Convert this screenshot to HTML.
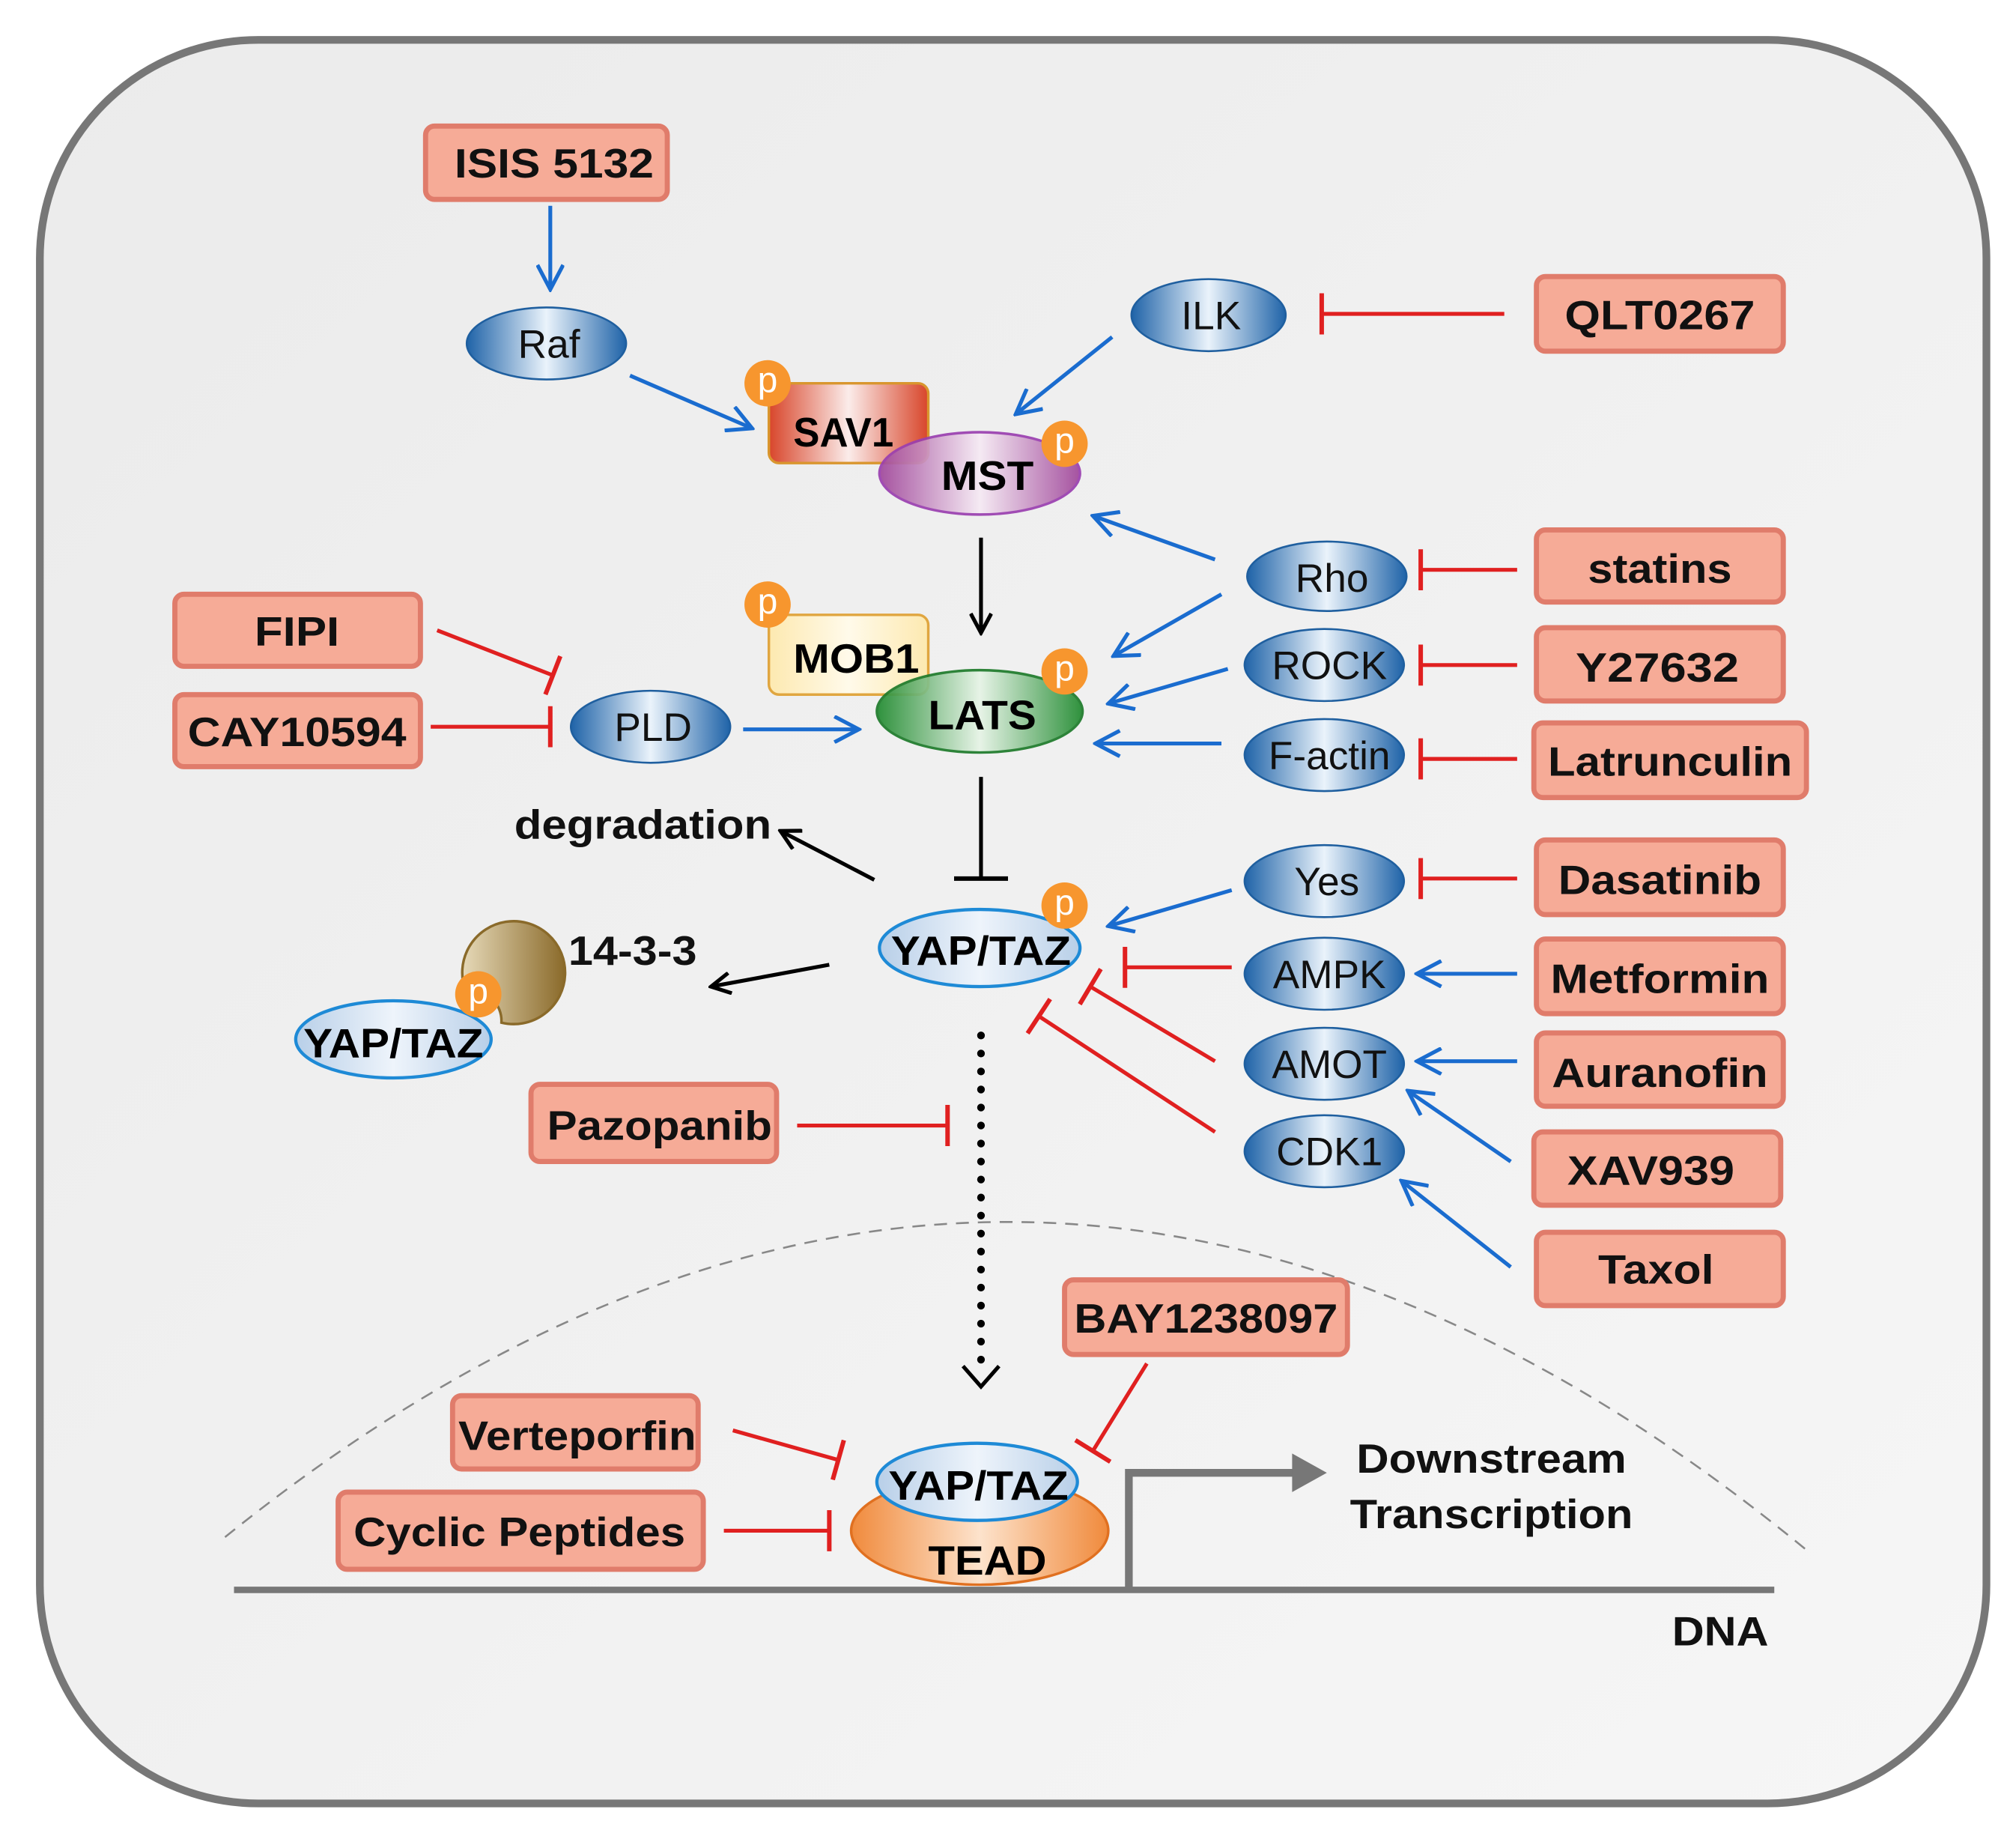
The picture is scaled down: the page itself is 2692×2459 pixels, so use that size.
<!DOCTYPE html>
<html><head><meta charset="utf-8"><style>html,body{margin:0;padding:0;background:#fff}svg{display:block}</style></head>
<body>
<svg width="2692" height="2459" viewBox="0 0 1568 1432" preserveAspectRatio="none" xmlns="http://www.w3.org/2000/svg" font-family="'Liberation Sans', sans-serif">
<defs>
<linearGradient id="bg" x1="0" y1="0" x2="1" y2="1"><stop offset="0" stop-color="#ebebeb"/><stop offset="1" stop-color="#f6f6f6"/></linearGradient>
<linearGradient id="blue" x1="0" y1="0" x2="1" y2="0"><stop offset="0" stop-color="#1f63a8"/><stop offset="0.5" stop-color="#eaf3fb"/><stop offset="1" stop-color="#1f63a8"/></linearGradient>
<linearGradient id="lblue" x1="0" y1="0" x2="1" y2="0"><stop offset="0" stop-color="#b8cfe8"/><stop offset="0.5" stop-color="#eef4fb"/><stop offset="1" stop-color="#b8cfe8"/></linearGradient>
<linearGradient id="purple" x1="0" y1="0" x2="1" y2="0"><stop offset="0" stop-color="#a0469a"/><stop offset="0.5" stop-color="#f6eaf4"/><stop offset="1" stop-color="#a0469a"/></linearGradient>
<linearGradient id="green" x1="0" y1="0" x2="1" y2="0"><stop offset="0" stop-color="#1f8a2e"/><stop offset="0.5" stop-color="#e6f4e6"/><stop offset="1" stop-color="#1f8a2e"/></linearGradient>
<linearGradient id="red" x1="0" y1="0" x2="1" y2="0"><stop offset="0" stop-color="#d8452a"/><stop offset="0.5" stop-color="#fbecea"/><stop offset="1" stop-color="#d8452a"/></linearGradient>
<linearGradient id="yel" x1="0" y1="0" x2="1" y2="0"><stop offset="0" stop-color="#fde9b0"/><stop offset="0.5" stop-color="#fffaea"/><stop offset="1" stop-color="#fde9b0"/></linearGradient>
<linearGradient id="orange" x1="0" y1="0" x2="1" y2="0"><stop offset="0" stop-color="#f08a3c"/><stop offset="0.5" stop-color="#fde3cc"/><stop offset="1" stop-color="#f08a3c"/></linearGradient>
<linearGradient id="brown" x1="0" y1="0" x2="1" y2="0"><stop offset="0" stop-color="#e6d9b8"/><stop offset="1" stop-color="#8a6a2a"/></linearGradient>
<marker id="ak" markerWidth="18" markerHeight="18" refX="16" refY="9" orient="auto" markerUnits="userSpaceOnUse"><path d="M1,1 L16,9 L1,17" fill="none" stroke="#000" stroke-width="3"/></marker>
<marker id="ab2" markerWidth="22" markerHeight="22" refX="20" refY="11" orient="auto" markerUnits="userSpaceOnUse"><path d="M1,1 L20,11 L1,21" fill="none" stroke="#1a6ccf" stroke-width="3"/></marker>
<marker id="ib" markerWidth="4" markerHeight="32" refX="2" refY="16" orient="auto" markerUnits="userSpaceOnUse"><path d="M2,0 L2,32" stroke="#e02020" stroke-width="3.5"/></marker>
<marker id="ik" markerWidth="4" markerHeight="42" refX="2" refY="21" orient="auto" markerUnits="userSpaceOnUse"><path d="M2,0 L2,42" stroke="#000" stroke-width="3.5"/></marker>
</defs>
<rect x="31" y="31" width="1514" height="1371" rx="170" fill="url(#bg)" stroke="#777" stroke-width="6"/>

<path d="M175,1195 Q790,700 1405,1205" fill="none" stroke="#888" stroke-width="1.5" stroke-dasharray="10,7"/>
<line x1="182" y1="1236" x2="1380" y2="1236" stroke="#777" stroke-width="5"/>
<path d="M878,1234 L878,1145 L1010,1145" fill="none" stroke="#777" stroke-width="6"/>
<path d="M1005,1130 L1032,1145 L1005,1160 Z" fill="#777"/>

<g font-weight="bold" font-size="32" text-anchor="middle" fill="#111">
<g fill="#f6ab97" stroke="#e07c6b" stroke-width="4">
<rect x="331" y="98" width="188" height="57" rx="7"/>
<rect x="1195" y="215" width="192" height="58" rx="7"/>
<rect x="1195" y="412" width="192" height="56" rx="7"/>
<rect x="1195" y="488" width="192" height="57" rx="7"/>
<rect x="1193" y="562" width="212" height="58" rx="7"/>
<rect x="136" y="462" width="191" height="56" rx="7"/>
<rect x="136" y="540" width="191" height="56" rx="7"/>
<rect x="1195" y="653" width="192" height="58" rx="7"/>
<rect x="1195" y="730" width="192" height="58" rx="7"/>
<rect x="1195" y="803" width="192" height="57" rx="7"/>
<rect x="1193" y="880" width="192" height="57" rx="7"/>
<rect x="1195" y="958" width="192" height="57" rx="7"/>
<rect x="413" y="843" width="191" height="60" rx="7"/>
<rect x="828" y="995" width="220" height="58" rx="7"/>
<rect x="352" y="1085" width="191" height="57" rx="7"/>
<rect x="263" y="1160" width="284" height="60" rx="7"/>
</g>
<text x="431" y="138" textLength="155" lengthAdjust="spacingAndGlyphs">ISIS 5132</text>
<text x="1291" y="256" textLength="148" lengthAdjust="spacingAndGlyphs">QLT0267</text>
<text x="1291" y="453" textLength="112" lengthAdjust="spacingAndGlyphs">statins</text>
<text x="1289" y="530" textLength="127" lengthAdjust="spacingAndGlyphs">Y27632</text>
<text x="1299" y="603" textLength="190" lengthAdjust="spacingAndGlyphs">Latrunculin</text>
<text x="231" y="502" textLength="66" lengthAdjust="spacingAndGlyphs">FIPI</text>
<text x="231" y="580" textLength="170" lengthAdjust="spacingAndGlyphs">CAY10594</text>
<text x="1291" y="695" textLength="158" lengthAdjust="spacingAndGlyphs">Dasatinib</text>
<text x="1291" y="772" textLength="170" lengthAdjust="spacingAndGlyphs">Metformin</text>
<text x="1291" y="845" textLength="168" lengthAdjust="spacingAndGlyphs">Auranofin</text>
<text x="1284" y="921" textLength="130" lengthAdjust="spacingAndGlyphs">XAV939</text>
<text x="1288" y="998" textLength="90" lengthAdjust="spacingAndGlyphs">Taxol</text>
<text x="513" y="886" textLength="175" lengthAdjust="spacingAndGlyphs">Pazopanib</text>
<text x="938" y="1036" textLength="205" lengthAdjust="spacingAndGlyphs">BAY1238097</text>
<text x="449" y="1127" textLength="185" lengthAdjust="spacingAndGlyphs">Verteporfin</text>
<text x="404" y="1202" textLength="258" lengthAdjust="spacingAndGlyphs">Cyclic Peptides</text>
<text x="500" y="652" textLength="200" lengthAdjust="spacingAndGlyphs">degradation</text>
<text x="492" y="750" textLength="100" lengthAdjust="spacingAndGlyphs">14-3-3</text>
<text x="1160" y="1145" textLength="210" lengthAdjust="spacingAndGlyphs">Downstream</text>
<text x="1160" y="1188" textLength="220" lengthAdjust="spacingAndGlyphs">Transcription</text>
<text x="1338" y="1279" textLength="75" lengthAdjust="spacingAndGlyphs">DNA</text>
</g>

<g stroke="#1a6ccf" stroke-width="3" fill="none" marker-end="url(#ab2)">
<line x1="428" y1="160" x2="428" y2="225"/>
<line x1="490" y1="292" x2="585" y2="333"/>
<line x1="865" y1="262" x2="790" y2="322"/>
<line x1="945" y1="435" x2="850" y2="401"/>
<line x1="950" y1="462" x2="866" y2="510"/>
<line x1="955" y1="520" x2="862" y2="547"/>
<line x1="950" y1="578" x2="852" y2="578"/>
<line x1="578" y1="567" x2="668" y2="567"/>
<line x1="958" y1="692" x2="862" y2="720"/>
<line x1="1180" y1="757" x2="1102" y2="757"/>
<line x1="1180" y1="825" x2="1102" y2="825"/>
<line x1="1175" y1="903" x2="1095" y2="848"/>
<line x1="1175" y1="985" x2="1090" y2="918"/>
</g>
<g stroke="#e02020" stroke-width="3" fill="none" marker-end="url(#ib)">
<line x1="1170" y1="244" x2="1028" y2="244"/>
<line x1="1180" y1="443" x2="1105" y2="443"/>
<line x1="1180" y1="517" x2="1105" y2="517"/>
<line x1="1180" y1="590" x2="1105" y2="590"/>
<line x1="1180" y1="683" x2="1105" y2="683"/>
<line x1="340" y1="490" x2="430" y2="525"/>
<line x1="335" y1="565" x2="428" y2="565"/>
<line x1="958" y1="752" x2="875" y2="752"/>
<line x1="945" y1="825" x2="848" y2="767"/>
<line x1="945" y1="880" x2="808" y2="790"/>
<line x1="620" y1="875" x2="737" y2="875"/>
<line x1="892" y1="1060" x2="850" y2="1128"/>
<line x1="570" y1="1112" x2="652" y2="1135"/>
<line x1="563" y1="1190" x2="645" y2="1190"/>
</g>
<g stroke="#000" stroke-width="3" fill="none">
<line x1="763" y1="418" x2="763" y2="492" marker-end="url(#ak)"/>
<line x1="763" y1="604" x2="763" y2="683" marker-end="url(#ik)"/>
<line x1="680" y1="684" x2="607" y2="646" marker-end="url(#ak)"/>
<line x1="645" y1="750" x2="553" y2="767" marker-end="url(#ak)"/>
<line x1="763" y1="805" x2="763" y2="1062" stroke-width="6" stroke-linecap="round" stroke-dasharray="0,14"/>
<path d="M749,1062 L763,1078 L777,1062" stroke-width="3"/>
</g>

<g stroke="#1f5f9f" stroke-width="1.5" fill="url(#blue)">
<ellipse cx="425" cy="267" rx="62" ry="28"/>
<ellipse cx="940" cy="245" rx="60" ry="28"/>
<ellipse cx="1032" cy="448" rx="62" ry="27"/>
<ellipse cx="1030" cy="517" rx="62" ry="28"/>
<ellipse cx="1030" cy="587" rx="62" ry="28"/>
<ellipse cx="506" cy="565" rx="62" ry="28"/>
<ellipse cx="1030" cy="685" rx="62" ry="28"/>
<ellipse cx="1030" cy="757" rx="62" ry="28"/>
<ellipse cx="1030" cy="827" rx="62" ry="28"/>
<ellipse cx="1030" cy="895" rx="62" ry="28"/>
</g>
<g font-size="31" text-anchor="middle" fill="#111">
<text x="427" y="278">Raf</text>
<text x="942" y="256">ILK</text>
<text x="1036" y="460">Rho</text>
<text x="1034" y="528">ROCK</text>
<text x="1034" y="598">F-actin</text>
<text x="508" y="576">PLD</text>
<text x="1032" y="696">Yes</text>
<text x="1034" y="768">AMPK</text>
<text x="1034" y="838">AMOT</text>
<text x="1034" y="906">CDK1</text>
</g>

<rect x="598" y="298" width="124" height="62" rx="8" fill="url(#red)" stroke="#d9962e" stroke-width="2"/>
<ellipse cx="762" cy="368" rx="78" ry="32" fill="url(#purple)" stroke="#9a3fb0" stroke-width="2" opacity="0.92"/>
<rect x="598" y="478" width="124" height="62" rx="8" fill="url(#yel)" stroke="#e0a640" stroke-width="2"/>
<ellipse cx="762" cy="553" rx="80" ry="32" fill="url(#green)" stroke="#1d7a2a" stroke-width="2" opacity="0.92"/>
<ellipse cx="762" cy="737" rx="78" ry="30" fill="url(#lblue)" stroke="#1e8ad6" stroke-width="2.5"/>
<path d="M362,770 A40,40 0 1 1 390,795 A24,24 0 0 0 362,770 Z" fill="url(#brown)" stroke="#8a6a2a" stroke-width="2"/>
<ellipse cx="306" cy="808" rx="76" ry="30" fill="url(#lblue)" stroke="#1e8ad6" stroke-width="2.5"/>
<ellipse cx="762" cy="1190" rx="100" ry="42" fill="url(#orange)" stroke="#e07020" stroke-width="2"/>
<ellipse cx="760" cy="1152" rx="78" ry="30" fill="url(#lblue)" stroke="#1e8ad6" stroke-width="2.5"/>

<g font-weight="bold" text-anchor="middle" fill="#000" font-size="32">
<text x="656" y="347" textLength="78" lengthAdjust="spacingAndGlyphs">SAV1</text>
<text x="768" y="381" textLength="72" lengthAdjust="spacingAndGlyphs">MST</text>
<text x="666" y="523" textLength="98" lengthAdjust="spacingAndGlyphs">MOB1</text>
<text x="764" y="567" textLength="84" lengthAdjust="spacingAndGlyphs">LATS</text>
<text x="763" y="750" textLength="140" lengthAdjust="spacingAndGlyphs">YAP/TAZ</text>
<text x="306" y="822" textLength="140" lengthAdjust="spacingAndGlyphs">YAP/TAZ</text>
<text x="761" y="1166" textLength="140" lengthAdjust="spacingAndGlyphs">YAP/TAZ</text>
<text x="768" y="1224" textLength="92" lengthAdjust="spacingAndGlyphs">TEAD</text>
</g>

<g fill="#f7962e">
<circle cx="597" cy="298" r="18"/><circle cx="828" cy="345" r="18"/>
<circle cx="597" cy="470" r="18"/><circle cx="828" cy="522" r="18"/>
<circle cx="828" cy="704" r="18"/><circle cx="372" cy="773" r="18"/>
</g>
<g font-size="28" fill="#fff" text-anchor="middle">
<text x="597" y="305">p</text><text x="828" y="352">p</text>
<text x="597" y="477">p</text><text x="828" y="529">p</text>
<text x="828" y="711">p</text><text x="372" y="780">p</text>
</g>
</svg>
</body></html>
